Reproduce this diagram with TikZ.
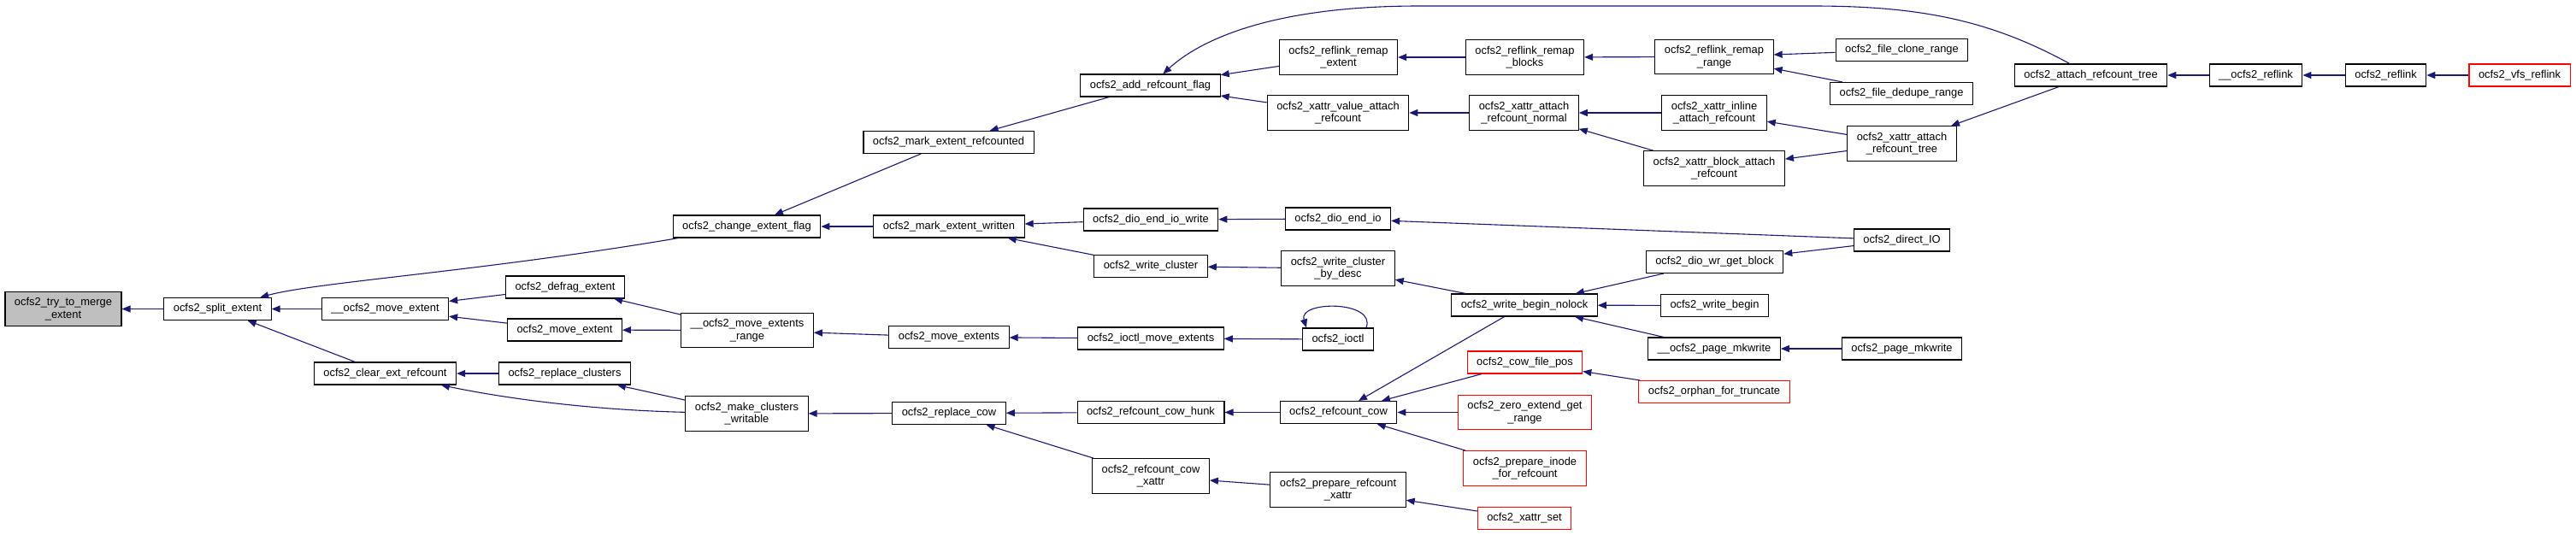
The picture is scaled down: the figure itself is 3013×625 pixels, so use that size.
\documentclass[tikz,border=0pt]{standalone}
\usepackage{fontspec}
\setmainfont{Liberation Sans}
\usepackage{tikz}
\usetikzlibrary{arrows.meta}
\usepackage{xcolor}
\definecolor{callblue}{HTML}{191970}
\definecolor{rootgray}{HTML}{BFBFBF}

\begin{document}
\begin{tikzpicture}[x=1pt,y=-1pt,>={Triangle[length=10pt,width=8pt]},
  fnbox/.style={draw=black,line width=1.1pt,fill=white,inner xsep=11pt,inner ysep=7pt,
    minimum height=26pt,align=center,font=\fontsize{12.9}{14.6}\selectfont},
  rootbox/.style={fnbox,fill=rootgray},
  redbox/.style={fnbox,draw=red},
  call/.style={<-,draw=callblue,line width=1.1pt}]
\useasboundingbox (0,0) rectangle (3013,625);
\node[rootbox] (tme) at (74,361.5) {ocfs2\_try\_to\_merge\\\_extent};
\node[fnbox] (split) at (254.5,361.5) {ocfs2\_split\_extent};
\node[fnbox] (mvext) at (450.5,361.5) {\_\_ocfs2\_move\_extent};
\node[fnbox] (clrref) at (450.5,437) {ocfs2\_clear\_ext\_refcount};
\node[fnbox] (chflag) at (873.5,265) {ocfs2\_change\_extent\_flag};
\node[fnbox] (defrag) at (661,336) {ocfs2\_defrag\_extent};
\node[fnbox] (mvone) at (660.5,386) {ocfs2\_move\_extent};
\node[fnbox] (mvrange) at (874,386.5) {\_\_ocfs2\_move\_extents\\\_range};
\node[fnbox] (replcl) at (660.5,437) {ocfs2\_replace\_clusters};
\node[fnbox] (mkwr) at (873.5,484) {ocfs2\_make\_clusters\\\_writable};
\node[fnbox] (markrc) at (1109.5,166.5) {ocfs2\_mark\_extent\_refcounted};
\node[fnbox] (markwr) at (1110,265) {ocfs2\_mark\_extent\_written};
\node[fnbox] (mvexts) at (1110,394.5) {ocfs2\_move\_extents};
\node[fnbox] (replcow) at (1110,483.5) {ocfs2\_replace\_cow};
\node[fnbox] (addflag) at (1345.5,100) {ocfs2\_add\_refcount\_flag};
\node[fnbox] (dioeiow) at (1346,257) {ocfs2\_dio\_end\_io\_write};
\node[fnbox] (wrcl) at (1346,311.5) {ocfs2\_write\_cluster};
\node[fnbox] (ioctlmv) at (1346,396) {ocfs2\_ioctl\_move\_extents};
\node[fnbox] (cowhunk) at (1346,482.5) {ocfs2\_refcount\_cow\_hunk};
\node[fnbox] (cowxattr) at (1346,557) {ocfs2\_refcount\_cow\\\_xattr};
\node[fnbox] (remapext) at (1565.5,67) {ocfs2\_reflink\_remap\\\_extent};
\node[fnbox] (valatt) at (1565,132) {ocfs2\_xattr\_value\_attach\\\_refcount};
\node[fnbox] (dioeio) at (1565,256) {ocfs2\_dio\_end\_io};
\node[fnbox] (wrcldesc) at (1565,314) {ocfs2\_write\_cluster\\\_by\_desc};
\node[fnbox] (ioctl) at (1565,397) {ocfs2\_ioctl};
\node[fnbox] (rccow) at (1565.5,482.5) {ocfs2\_refcount\_cow};
\node[fnbox] (prepxattr) at (1565,573) {ocfs2\_prepare\_refcount\\\_xattr};
\node[fnbox] (remapblk) at (1783.5,67) {ocfs2\_reflink\_remap\\\_blocks};
\node[fnbox] (attnormal) at (1782.5,132) {ocfs2\_xattr\_attach\\\_refcount\_normal};
\node[fnbox] (wbnolock) at (1783,357) {ocfs2\_write\_begin\_nolock};
\node[redbox] (cowpos) at (1783.5,424) {ocfs2\_cow\_file\_pos};
\node[redbox] (zeroext) at (1783.5,482.5) {ocfs2\_zero\_extend\_get\\\_range};
\node[redbox] (prepinode) at (1783.5,548) {ocfs2\_prepare\_inode\\\_for\_refcount};
\node[redbox] (xset) at (1783,606.5) {ocfs2\_xattr\_set};
\node[fnbox] (remaprange) at (2005,66.5) {ocfs2\_reflink\_remap\\\_range};
\node[fnbox] (inlineatt) at (2005,132) {ocfs2\_xattr\_inline\\\_attach\_refcount};
\node[fnbox] (blockatt) at (2005,197) {ocfs2\_xattr\_block\_attach\\\_refcount};
\node[fnbox] (wrgetblk) at (2005.5,306.5) {ocfs2\_dio\_wr\_get\_block};
\node[fnbox] (wbegin) at (2005.5,357.5) {ocfs2\_write\_begin};
\node[fnbox] (pgmkwrint) at (2005,408) {\_\_ocfs2\_page\_mkwrite};
\node[redbox] (orphan) at (2005,458.5) {ocfs2\_orphan\_for\_truncate};
\node[fnbox] (clone) at (2224.5,58.5) {ocfs2\_file\_clone\_range};
\node[fnbox] (dedupe) at (2224,109.5) {ocfs2\_file\_dedupe\_range};
\node[fnbox] (xatttree) at (2224.5,168) {ocfs2\_xattr\_attach\\\_refcount\_tree};
\node[fnbox] (directio) at (2224.5,281) {ocfs2\_direct\_IO};
\node[fnbox] (pgmkwr) at (2224.5,408) {ocfs2\_page\_mkwrite};
\node[fnbox] (atttree) at (2445.5,88) {ocfs2\_attach\_refcount\_tree};
\node[fnbox] (reflinkint) at (2638.5,88) {\_\_ocfs2\_reflink};
\node[fnbox] (reflink) at (2790.5,88) {ocfs2\_reflink};
\node[redbox] (vfsreflink) at (2947,88) {ocfs2\_vfs\_reflink};
\draw[call] (tme) -- (split);
\draw[call] (split) -- (mvext);
\draw[call] (split) .. controls (370,330) and (560,318) .. (chflag);
\draw[call] (split) -- (clrref);
\draw[call] (mvext) -- (defrag);
\draw[call] (mvext) -- (mvone);
\draw[call] (defrag) -- (mvrange);
\draw[call] (mvone) -- (mvrange);
\draw[call] (clrref) -- (replcl);
\draw[call] (clrref) .. controls (600,468) and (700,480) .. (mkwr);
\draw[call] (replcl) -- (mkwr);
\draw[call] (chflag) -- (markrc);
\draw[call] (chflag) -- (markwr);
\draw[call] (mvrange) -- (mvexts);
\draw[call] (mkwr) -- (replcow);
\draw[call] (markrc) -- (addflag);
\draw[call] (markwr) -- (dioeiow);
\draw[call] (markwr) -- (wrcl);
\draw[call] (mvexts) -- (ioctlmv);
\draw[call] (replcow) -- (cowhunk);
\draw[call] (replcow) -- (cowxattr);
\draw[call] (addflag) -- (remapext);
\draw[call] (addflag) -- (valatt);
\draw[call] (addflag) .. controls (1400,50) and (1480,7) .. (1660,7) -- (2120,7) .. controls (2250,7) and (2330,25) .. (atttree);
\draw[call] (dioeiow) -- (dioeio);
\draw[call] (wrcl) -- (wrcldesc);
\draw[call] (ioctlmv) -- (ioctl);
\draw[call] ([xshift=5pt]ioctl.north west) .. controls +(-10,-32) and +(12,-32) .. ([xshift=-9pt]ioctl.north east);
\draw[call] (cowhunk) -- (rccow);
\draw[call] (cowxattr) -- (prepxattr);
\draw[call] (remapext) -- (remapblk);
\draw[call] (valatt) -- (attnormal);
\draw[call] (dioeio) -- (directio);
\draw[call] (wrcldesc) -- (wbnolock);
\draw[call] (rccow) -- (wbnolock);
\draw[call] (rccow) -- (cowpos);
\draw[call] (rccow) -- (zeroext);
\draw[call] (rccow) -- (prepinode);
\draw[call] (prepxattr) -- (xset);
\draw[call] (remapblk) -- (remaprange);
\draw[call] (attnormal) -- (inlineatt);
\draw[call] (attnormal) -- (blockatt);
\draw[call] (wbnolock) -- (wrgetblk);
\draw[call] (wbnolock) -- (wbegin);
\draw[call] (wbnolock) -- (pgmkwrint);
\draw[call] (cowpos) -- (orphan);
\draw[call] (remaprange) -- (clone);
\draw[call] (remaprange) -- (dedupe);
\draw[call] (inlineatt) -- (xatttree);
\draw[call] (blockatt) -- (xatttree);
\draw[call] (wrgetblk) -- (directio);
\draw[call] (pgmkwrint) -- (pgmkwr);
\draw[call] (xatttree) -- (atttree);
\draw[call] (atttree) -- (reflinkint);
\draw[call] (reflinkint) -- (reflink);
\draw[call] (reflink) -- (vfsreflink);
\end{tikzpicture}
\end{document}
